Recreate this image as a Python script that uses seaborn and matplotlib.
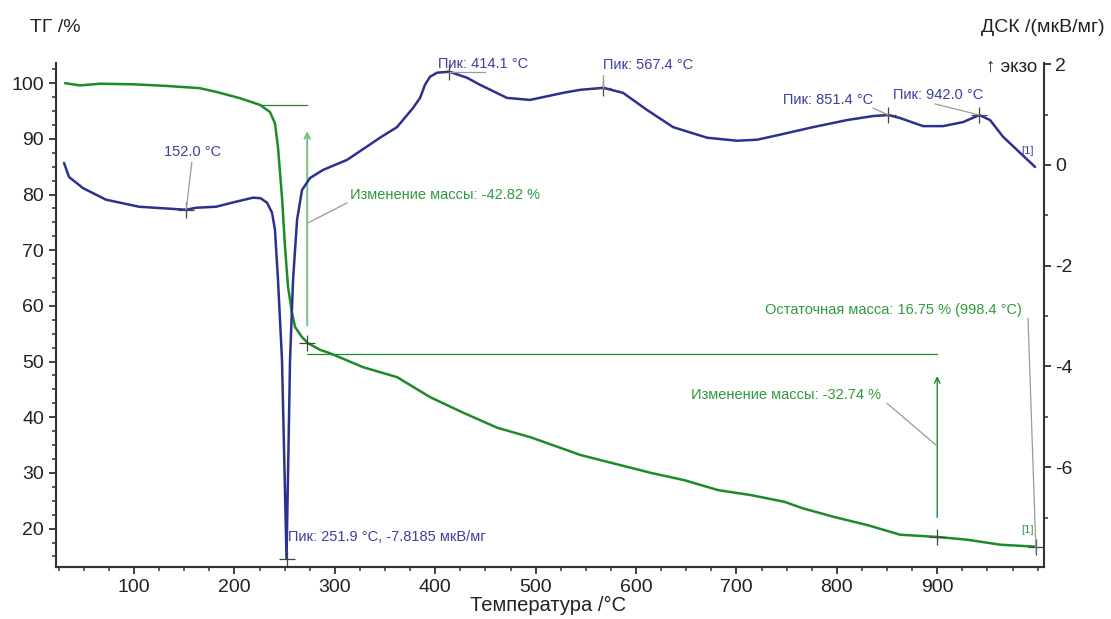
import matplotlib
matplotlib.use("Agg")
import matplotlib.pyplot as plt
from matplotlib.ticker import MultipleLocator
import seaborn as sns
import pandas as pd

sns.set_style("ticks")
plt.rcParams["font.family"] = ["Liberation Sans", "DejaVu Sans"]
plt.rcParams["axes.unicode_minus"] = False

# DSC curve (blue), temperature in C and signal in uV/mg
dsc_temp = [30.3, 35.3, 49.2, 72.1, 105.0, 152.0, 161.8, 181.7, 201.6, 218.5, 226.0, 232.5,
            237.5, 240.4, 243.4, 247.4, 251.9, 255.4, 258.4, 262.4, 267.3, 275.3, 288.2,
            312.2, 345.0, 361.9, 377.9, 384.9, 389.8, 394.8, 401.8, 414.1, 431.7, 444.6,
            471.5, 494.4, 527.3, 544.2, 567.4, 587.1, 611.0, 636.9, 670.7, 700.6, 720.5,
            743.4, 776.3, 810.2, 836.1, 851.4, 863.0, 885.9, 905.8, 925.7, 942.0, 952.6,
            965.5, 982.5, 997.4]
dsc_val = [0.04, -0.24, -0.46, -0.69, -0.83, -0.89, -0.85, -0.83, -0.73, -0.65, -0.66, -0.75,
           -0.95, -1.29, -2.28, -3.87, -7.8185, -3.87, -2.28, -1.09, -0.50, -0.26, -0.10,
           0.10, 0.54, 0.75, 1.13, 1.33, 1.59, 1.75, 1.83, 1.85, 1.73, 1.59,
           1.33, 1.29, 1.43, 1.49, 1.53, 1.43, 1.09, 0.75, 0.54, 0.48, 0.50,
           0.60, 0.75, 0.89, 0.97, 0.99, 0.93, 0.77, 0.77, 0.85, 0.99, 0.89,
           0.56, 0.24, -0.04]

# TG curve (green), mass in %
tg_temp = [31.3, 46.2, 66.1, 99.0, 132.9, 165.7, 182.7, 205.6, 225.5, 235.5, 240.4, 243.4,
           247.4, 250.4, 253.4, 257.4, 260.4, 267.3, 273.3, 285.3, 295.2, 328.0, 362.0,
           395.0, 428.0, 462.0, 495.0, 545.0, 615.0, 648.0, 682.0, 715.0, 748.0, 765.0,
           797.0, 831.0, 863.0, 900.0, 930.0, 963.0, 998.4]
tg_val = [100.0, 99.6, 99.9, 99.8, 99.5, 99.1, 98.4, 97.3, 96.1, 94.8, 92.8, 88.5,
          79.5, 70.6, 63.4, 58.7, 56.2, 54.4, 53.3, 52.1, 51.5, 49.0, 47.2,
          43.6, 40.8, 38.1, 36.4, 33.2, 30.0, 28.7, 26.9, 26.0, 24.8, 23.7,
          22.1, 20.6, 18.9, 18.5, 18.0, 17.1, 16.75]

# marked points
dsc_mark_t = [152.0, 251.9, 414.1, 567.4, 851.4, 942.0]
dsc_mark_v = [-0.89, -7.8185, 1.85, 1.53, 0.99, 0.99]
tg_mark_t = [272.3, 900.0, 998.4]
tg_mark_v = [53.3, 18.5, 16.75]

blue = "#2c3190"
green = "#1f8a2b"
blue_txt = "#3b409c"
green_txt = "#2f9a3c"
lead = "#9a9a9a"

dsc = pd.DataFrame({"t": dsc_temp, "v": dsc_val})
tg = pd.DataFrame({"t": tg_temp, "v": tg_val})

fig = plt.figure(figsize=(11.11, 6.19), dpi=100)
ax = fig.add_axes([0.0504, 0.084, 0.889, 0.814])
ax2 = ax.twinx()

sns.lineplot(data=tg, x="t", y="v", ax=ax, color=green, lw=1.8, sort=False, estimator=None)
sns.lineplot(data=dsc, x="t", y="v", ax=ax2, color=blue, lw=1.8, sort=False, estimator=None)

ax.set_xlim(22.3, 1006)
ax.set_ylim(13.1, 103.6)
ax2.set_ylim(-7.98, 2.02)

ax.xaxis.set_major_locator(MultipleLocator(100))
ax.xaxis.set_minor_locator(MultipleLocator(25))
ax.set_xticks(range(100, 1000, 100))
ax.yaxis.set_major_locator(MultipleLocator(10))
ax.yaxis.set_minor_locator(MultipleLocator(2.5))
ax.set_yticks(range(20, 101, 10))
ax2.yaxis.set_major_locator(MultipleLocator(2))
ax2.yaxis.set_minor_locator(MultipleLocator(1))
ax2.set_yticks([-6, -4, -2, 0, 2])

for a in (ax, ax2):
    a.set_xlabel("")
    a.set_ylabel("")
    a.spines["top"].set_visible(False)
    for s in a.spines.values():
        s.set_linewidth(1.5)
        s.set_color("#333333")
    a.tick_params(which="major", length=5, width=1.3, labelsize=14, colors="#333333", labelcolor="#222222")
    a.tick_params(which="minor", length=3, width=1.1, colors="#333333")
ax.spines["right"].set_visible(False)
ax2.spines["left"].set_visible(False)

# markers
ax.plot(tg_mark_t, tg_mark_v, ls="none", marker="+", ms=11, mew=0.9, color="#444444")
ax2.plot(dsc_mark_t, dsc_mark_v, ls="none", marker="+", ms=11, mew=0.9, color="#444444")

# mass change constructions
ax.plot([225.5, 272.3], [96.1, 96.1], color=green, lw=0.9)
ax.plot([272.3, 900], [51.3, 51.3], color=green, lw=0.9)
ax.annotate("", xy=(272.5, 91.9), xytext=(272.5, 56.0),
            arrowprops=dict(arrowstyle="->", color="#7cc07e", lw=1.4))
ax.annotate("", xy=(900, 47.9), xytext=(900, 21.5),
            arrowprops=dict(arrowstyle="->", color=green, lw=1.0))

lp = dict(arrowstyle="-", color=lead, lw=0.9, shrinkA=0, shrinkB=0)
fs = 10.5

# DSC labels
ax2.annotate("152.0 °C", xy=(152.0, -0.89), xytext=(158.8, 0.26), ha="center", va="center",
             color=blue_txt, fontsize=fs, arrowprops=lp)
ax2.annotate("Пик: 414.1 °C", xy=(414.1, 1.85), xytext=(402.5, 2.0), ha="left", va="center",
             color=blue_txt, fontsize=fs, annotation_clip=False)
ax2.plot([414.1, 449.6], [1.85, 1.85], color=lead, lw=0.9)
ax2.annotate("Пик: 567.4 °C", xy=(567.4, 1.53), xytext=(567.0, 1.98), ha="left", va="center",
             color=blue_txt, fontsize=fs, annotation_clip=False)
ax2.plot([567.4, 567.4], [1.53, 1.78], color=lead, lw=0.9)
ax2.annotate("Пик: 851.4 °C", xy=(851.4, 0.99), xytext=(836.0, 1.29), ha="right", va="center",
             color=blue_txt, fontsize=fs)
ax2.plot([836, 851.4], [1.13, 0.99], color=lead, lw=0.9)
ax2.annotate("Пик: 942.0 °C", xy=(942.0, 0.99), xytext=(856.0, 1.39), ha="left", va="center",
             color=blue_txt, fontsize=fs)
ax2.plot([897.8, 942.0], [1.21, 0.99], color=lead, lw=0.9)
ax2.text(989.4, 0.28, "[1]", color=blue_txt, fontsize=8, ha="center", va="center")
ax2.text(253.4, -7.38, "Пик: 251.9 °C, -7.8185 мкВ/мг", color=blue_txt, fontsize=fs,
         ha="left", va="center")

# TG labels
ax.text(315.1, 79.9, "Изменение массы: -42.82 %", color=green_txt, fontsize=fs, ha="left", va="center")
ax.plot([312.2, 273.3], [78.5, 74.9], color=lead, lw=0.9)
ax.text(654.8, 44.0, "Изменение массы: -32.74 %", color=green_txt, fontsize=fs, ha="left", va="center")
ax.plot([850, 898.8], [42.5, 35.0], color=lead, lw=0.9)
ax.text(728.5, 59.2, "Остаточная масса: 16.75 % (998.4 °C)", color=green_txt, fontsize=fs,
        ha="left", va="center")
ax.plot([990.4, 998.4], [57.8, 15.6], color=lead, lw=0.9)
ax.text(989.4, 19.7, "[1]", color=green_txt, fontsize=8, ha="center", va="center")

# axis titles
fig.text(0.027, 0.956, "ТГ /%", fontsize=14, ha="left", va="center", color="#222222")
fig.text(0.9946, 0.956, "ДСК /(мкВ/мг)", fontsize=14, ha="right", va="center", color="#222222")
fig.text(0.934, 0.892, "↑ экзо", fontsize=13.5, ha="right", va="center", color="#222222")
fig.text(0.493, 0.022, "Температура /°C", fontsize=14.5, ha="center", va="center", color="#222222")

fig.savefig("out.png", dpi=100)
